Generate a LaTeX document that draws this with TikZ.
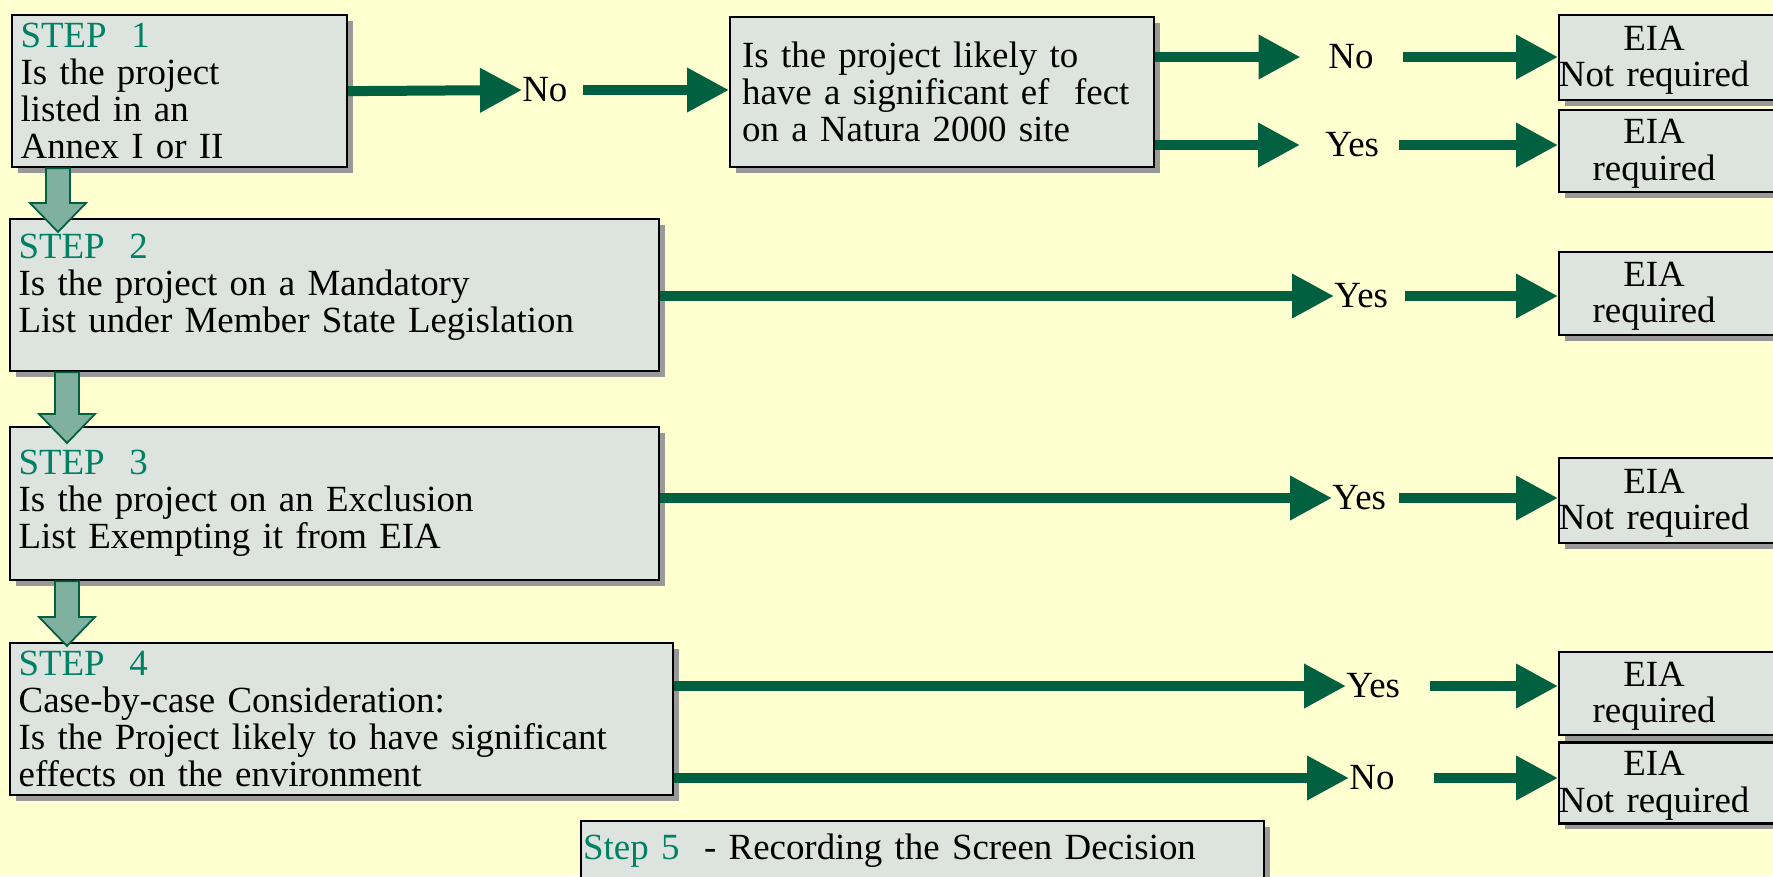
\documentclass[tikz,border=0pt]{standalone}
\usepackage{fontspec}
\setmainfont{Liberation Serif}
\usetikzlibrary{arrows.meta,shadows,calc}

\definecolor{bgyellow}{RGB}{255,255,208}
\definecolor{boxgray}{RGB}{221,227,222}
\definecolor{shadowgray}{RGB}{153,153,153}
\definecolor{arrowgreen}{RGB}{0,96,64}
\definecolor{stepteal}{RGB}{0,128,100}
\definecolor{downfill}{RGB}{128,176,160}

\tikzset{
  box/.style={draw=black, line width=1.3pt, fill=boxgray,
    drop shadow={shadow xshift=0.12cm, shadow yshift=-0.12cm, fill=shadowgray, opacity=1},
    anchor=north west, align=left, inner xsep=0.17cm, inner ysep=0pt},
  eia/.style={box, anchor=west, text width=5cm, inner xsep=0pt},
  flow/.style={arrowgreen, line width=0.2cm, -{Triangle[length=0.84cm,width=0.84cm]}},
  answer/.style={inner sep=0pt, anchor=west},
  downarrow/.style={draw=arrowgreen, line width=1pt, fill=downfill, line join=miter}
}
\newcommand{\eiatext}[1]{\makebox[3.8cm]{\begin{tabular}{@{}c@{}}\rule{0pt}{0.66cm}EIA\\#1\end{tabular}}}
\newcommand{\steptitle}[1]{\textcolor{stepteal}{STEP\ \ #1}}

\begin{document}
\begin{tikzpicture}[x=0.02cm, y=-0.02cm, font=\fontsize{21pt}{21pt}\selectfont]
    \useasboundingbox (0,0) rectangle (1773,876);
    \clip (0,0) rectangle (1773,876);
    \fill[bgyellow] (0,0) rectangle (1773,876);

    \node[box, minimum width=6.7cm, minimum height=3.04cm, text width=6.36cm] (step1) at (11,14)
        {\steptitle{1}\\Is the project\\listed in an\\Annex I or II};
    \node[box, minimum width=8.48cm, minimum height=3.0cm, inner xsep=0.24cm, text width=8.0cm] (natura) at (729,16)
        {Is the project likely to\\have a significant ef\ \ fect\\on a Natura 2000 site};
    \node[box, minimum width=12.98cm, minimum height=3.04cm, text width=12.64cm] (step2) at (9,218)
        {\steptitle{2}\\Is the project on a Mandatory\\List under Member State Legislation\vspace{0.32cm}};
    \node[box, minimum width=12.98cm, minimum height=3.06cm, text width=12.64cm] (step3) at (9,426)
        {\steptitle{3}\\Is the project on an Exclusion\\List Exempting it from EIA};
    \node[box, minimum width=13.26cm, minimum height=3.04cm, text width=12.92cm] (step4) at (9,642)
        {\steptitle{4}\\Case-by-case Consideration:\\Is the Project likely to have significant\\effects on the environment};
    \node[box, minimum width=13.66cm, minimum height=1.2cm, inner xsep=0.04cm, text width=13.58cm] (step5) at (580,820)
        {\textcolor{stepteal}{Step 5}\ \ - Recording the Screen Decision};

    \node[eia, minimum height=1.7cm] (eia1) at (1558,57.5) {\eiatext{Not required}};
    \node[eia, minimum height=1.64cm] (eia2) at (1558,151) {\eiatext{required}};
    \node[eia, minimum height=1.66cm] (eia3) at (1558,293.5) {\eiatext{required}};
    \node[eia, minimum height=1.7cm] (eia4) at (1558,500.5) {\eiatext{Not required}};
    \node[eia, minimum height=1.66cm] (eia5) at (1558,693.5) {\eiatext{required}};
    \node[eia, minimum height=1.6cm] (eia6) at (1558,783) {\eiatext{Not required}};

    \node[answer] (no1) at (522,90) {No};
    \node[answer] (no2) at (1328,57) {No};
    \node[answer] (yes2) at (1325,145) {Yes};
    \node[answer] (yes3) at (1334,296) {Yes};
    \node[answer] (yes4) at (1332,498) {Yes};
    \node[answer] (yes5) at (1346,686) {Yes};
    \node[answer] (no6) at (1349,778) {No};

    \draw[flow] (step1.east) -- (no1.west);
    \draw[flow, shorten <=0.3cm] (no1.east) -- (no1.east -| natura.west);
    \draw[flow, shorten >=0.55cm] (natura.east |- no2) -- (no2.west);
    \draw[flow, shorten <=0.58cm] (no2.east) -- (no2 -| eia1.west);
    \draw[flow, shorten >=0.5cm] (natura.east |- yes2) -- (yes2.west);
    \draw[flow, shorten <=0.4cm] (yes2.east) -- (yes2 -| eia2.west);
    \draw[flow] (step2.east |- yes3) -- (yes3.west);
    \draw[flow, shorten <=0.33cm] (yes3.east) -- (yes3 -| eia3.west);
    \draw[flow] (step3.east |- yes4) -- (yes4.west);
    \draw[flow, shorten <=0.25cm] (yes4.east) -- (yes4 -| eia4.west);
    \draw[flow] (step4.east |- yes5) -- (yes5.west);
    \draw[flow, shorten <=0.6cm] (yes5.east) -- (yes5 -| eia5.west);
    \draw[flow] (step4.east |- no6) -- (no6.west);
    \draw[flow, shorten <=0.78cm] (no6.east) -- (no6 -| eia6.west);

    \foreach \sa/\sb/\dx/\dy in {step1/step2/49/14, step2/step3/58/17, step3/step4/58/4}
        \draw[downarrow] ($(\sb.north west)+(\dx,\dy)$) -- ++(28,-29) -- ++(-16,0) coordinate (r)
            -- (r |- \sa.south) -- ++(-24,0) coordinate (l) -- (l |- r) -- ++(-16,0) -- cycle;
\end{tikzpicture}
\end{document}
